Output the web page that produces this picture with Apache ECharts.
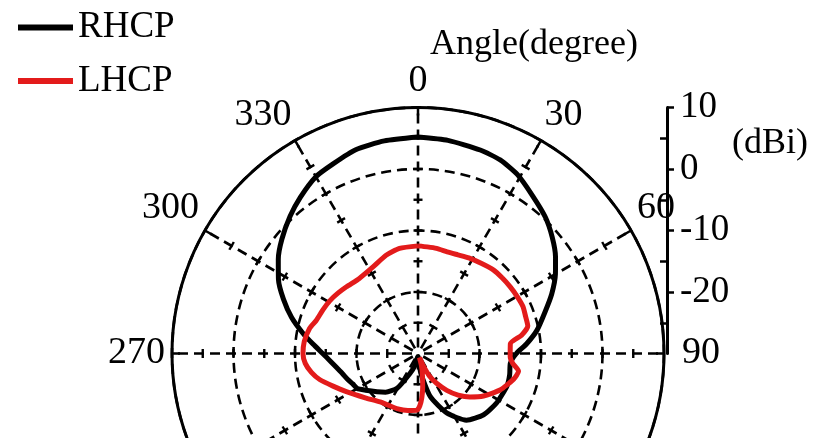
<!DOCTYPE html>
<html>
<head>
<meta charset="utf-8">
<title>RHCP / LHCP radiation pattern</title>
<script src="https://cdn.jsdelivr.net/npm/echarts@6/dist/echarts.min.js"></script>
<style>
  html, body { margin: 0; padding: 0; background: #fff; }
  #chart { width: 824px; height: 438px; }
</style>
</head>
<body>
<div id="chart"></div>
<script>
// Measured gain (dBi) versus angle (degree) for both polarisations
const rhcpAngle = [0, 8, 17, 23, 29, 36, 43, 49, 55, 60, 66, 72, 79, 85, 90, 96, 103, 110, 122, 133,
  144, 154, 164, 172, 178, 186, 194, 202, 211, 220, 227, 235, 240, 245, 250, 255, 260, 265, 270, 275,
  280, 286, 292, 298, 304, 310, 317, 323, 330, 336, 343, 351, 360];
const rhcpGain = [5.2, 5.0, 4.6, 4.2, 3.3, 1.7, 0.35, -1.1, -2.7, -4.2, -6.2, -8.3, -10.3, -12.3, -14.0, -14.9, -14.7, -14.6, -14.9, -15.4,
  -16.6, -19.2, -22.7, -26.8, -29.5, -29.4, -28.0, -26.5, -23.4, -21.8, -20.9, -19.6, -18.6, -18.3, -17.8, -17.3, -16.6, -15.7, -14.5, -12.9,
  -11.0, -8.6, -6.4, -4.3, -2.6, -1.1, 0.5, 1.8, 3.2, 3.8, 4.65, 5.0, 5.2];

const lhcpAngle = [0, 5, 10, 16, 22, 28, 35, 42, 48, 54, 60, 66, 71, 76, 80, 84, 92, 96, 100, 105,
  114, 123, 130, 136, 142, 148, 153, 157, 160, 164, 168, 172, 175, 178, 181, 190, 201, 210, 218, 230,
  242, 249, 255, 260, 265, 270, 276, 283, 288, 295, 301, 307, 313, 322, 333, 342, 350, 360];
const lhcpGain = [-12.5, -12.6, -12.65, -12.8, -12.7, -12.4, -12.1, -11.7, -11.6, -11.5, -11.4, -11.3, -11.5, -11.6, -12.9, -14.9, -15.0, -14.5, -13.4, -13.9,
  -15.4, -17.3, -19.0, -20.6, -22.4, -24.3, -25.9, -28.0, -29.3, -28.0, -26.6, -24.5, -22.8, -21.5, -20.8, -20.6, -20.4, -20.3, -20.0, -18.8,
  -16.8, -15.2, -13.5, -12.4, -11.6, -11.3, -11.4, -11.9, -12.6, -13.0, -13.3, -13.7, -14.1, -14.5, -14.1, -13.2, -12.65, -12.5];

// Axis ranges and tick values
const gainMin = -30, gainMax = 10, gainStep = 10;
const gainLabels = [-20, -10, 0, 10];
const gainMinorTicks = [-25, -15, -5, 5];
const angleStep = 30;
const spokeTickGains = [-25, -20, -15, -10, -5, 0, 5];
const seriesNames = ['RHCP', 'LHCP'];

const FONT = '"Liberation Serif", "Times New Roman", serif';
const INK = '#000';
const RED = '#e31b1b';
const DASH = [10, 6];

const pair = (gain, angle) => gain.map((g, i) => [g, angle[i]]);

// small cross ticks along every spoke
const spokeTicks = [];
for (let a = 0; a < 360; a += angleStep) {
  spokeTickGains.forEach(g => spokeTicks.push([g, a]));
}

const chart = echarts.init(document.getElementById('chart'), null, { renderer: 'canvas' });

chart.setOption({
  animation: false,
  backgroundColor: '#fff',
  title: [
    { text: 'Angle(degree)', left: 430, top: 27, padding: 0,
      textStyle: { fontFamily: FONT, fontSize: 36, fontWeight: 'normal', color: INK } },
    { text: '(dBi)', left: 732, top: 126, padding: 0,
      textStyle: { fontFamily: FONT, fontSize: 36, fontWeight: 'normal', color: INK } }
  ],
  legend: {
    data: seriesNames,
    orient: 'vertical',
    left: 18,
    top: 9,
    padding: 0,
    itemGap: 16.5,
    itemWidth: 55,
    itemHeight: 6,
    icon: 'rect',
    textStyle: { fontFamily: FONT, fontSize: 37, color: INK }
  },
  polar: { center: [418, 353.5], radius: 246 },
  angleAxis: {
    type: 'value',
    min: 0, max: 360, interval: angleStep,
    startAngle: 90, clockwise: true,
    axisLine: { show: true, lineStyle: { color: INK, width: 3 } },
    axisTick: { show: true, inside: true, length: 8, lineStyle: { color: INK, width: 2.5 } },
    axisLabel: {
      margin: 7,
      fontFamily: FONT, fontSize: 38, color: INK,
      formatter: v => (v === 90 ? '{r|90}' : String(v)),
      rich: { r: { fontFamily: FONT, fontSize: 38, color: INK, padding: [0, 0, 0, 11] } }
    },
    // spokes start with a gap so they stay clear of the centre
    splitLine: { show: true, lineStyle: { color: INK, width: 2.6, type: DASH, dashOffset: 10 } }
  },
  radiusAxis: {
    type: 'value',
    min: gainMin, max: gainMax, interval: gainStep,
    axisLine: { show: false },
    axisTick: { show: false },
    axisLabel: { show: false },
    splitLine: { show: true, lineStyle: { color: INK, width: 2.6, type: DASH } }
  },
  grid: { left: 600, top: 107.5, width: 67, height: 246 },
  xAxis: { type: 'value', show: false },
  yAxis: [
    {
      type: 'value', position: 'right',
      min: gainMin, max: gainMax, interval: gainStep,
      axisLine: { show: true, onZero: false, lineStyle: { color: INK, width: 3 } },
      axisTick: { show: true, length: 7, lineStyle: { color: INK, width: 2.5 }, customValues: gainLabels },
      axisLabel: {
        margin: 13, fontFamily: FONT, fontSize: 37, color: INK,
        customValues: gainLabels,
        formatter: v => (gainLabels.indexOf(v) >= 0 ? String(v) : '')
      },
      splitLine: { show: false }
    },
    {
      type: 'value', position: 'right', offset: 0,
      min: gainMin, max: gainMax, interval: gainStep,
      axisLine: { show: false, onZero: false },
      axisTick: { show: true, inside: true, length: 7, lineStyle: { color: INK, width: 2.5 }, customValues: gainMinorTicks },
      axisLabel: { show: false },
      splitLine: { show: false }
    }
  ],
  series: [
    {
      type: 'custom',
      coordinateSystem: 'polar',
      silent: true,
      z: 1,
      data: spokeTicks,
      renderItem: (params, api) => {
        const a = api.value(1);
        const p = api.coord([api.value(0), a]);
        const rad = a * Math.PI / 180;
        const h = 4.5;
        const cx = Math.cos(rad) * h, cy = Math.sin(rad) * h;
        return {
          type: 'line',
          shape: { x1: p[0] - cx, y1: p[1] - cy, x2: p[0] + cx, y2: p[1] + cy },
          style: { stroke: INK, lineWidth: 2.4 }
        };
      }
    },
    {
      name: seriesNames[0],
      type: 'line',
      coordinateSystem: 'polar',
      data: pair(rhcpGain, rhcpAngle),
      showSymbol: false,
      symbol: 'none',
      smooth: 0.2,
      z: 3,
      color: INK,
      lineStyle: { color: INK, width: 5 }
    },
    {
      name: seriesNames[1],
      type: 'line',
      coordinateSystem: 'polar',
      data: pair(lhcpGain, lhcpAngle),
      showSymbol: false,
      symbol: 'none',
      smooth: 0.2,
      z: 4,
      color: RED,
      lineStyle: { color: RED, width: 5 }
    }
  ]
});
</script>
</body>
</html>
